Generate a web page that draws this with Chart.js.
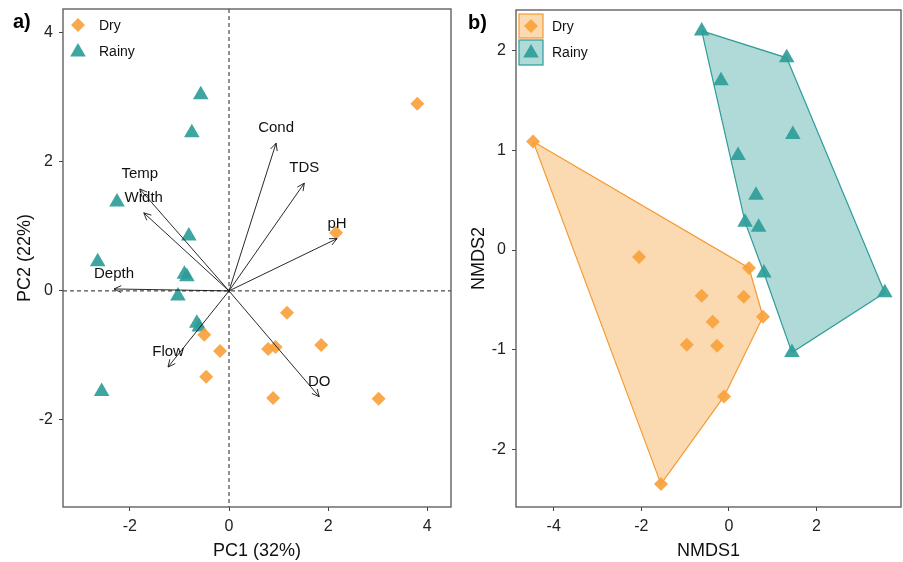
<!DOCTYPE html>
<html lang="en">
<head>
  <meta charset="UTF-8">
  <title>PCA and NMDS ordination, dry vs rainy season</title>
  <script src="https://cdn.jsdelivr.net/npm/chart.js"></script>
  <style>
    body { margin: 0; background: #fff; overflow: hidden; }
    #wrap { position: relative; width: 903px; height: 562px; overflow: hidden; }
    canvas { position: absolute; top: -7px; }
    #pcaChart { left: 0; }
    #nmdsChart { left: 458px; }
  </style>
</head>
<body>
  <div id="wrap">
    <canvas id="pcaChart" width="460" height="569"></canvas>
    <canvas id="nmdsChart" width="452" height="569"></canvas>
  </div>

  <script>
    // ---- panel a) PCA scores ----
    const pc1Dry = [3.80, 2.16, 1.17, -0.50, -0.18, 0.79, 0.94, 1.86, -0.46, 0.89, 3.02];
    const pc2Dry = [2.90, 0.90, -0.34, -0.68, -0.93, -0.90, -0.87, -0.84, -1.33, -1.66, -1.67];
    const pc1Rainy = [-0.57, -0.75, -2.26, -0.81, -2.65, -0.85, -0.90, -1.03, -0.65, -0.60, -2.57];
    const pc2Rainy = [3.04, 2.45, 1.38, 0.85, 0.45, 0.22, 0.26, -0.08, -0.50, -0.56, -1.56];

    // loadings (arrow tips)
    const loadingNames = ['Cond', 'TDS', 'pH', 'Temp', 'Width', 'Depth', 'Flow', 'DO'];
    const loadingPC1 = [0.95, 1.52, 2.18, -1.80, -1.72, -2.32, -1.23, 1.82];
    const loadingPC2 = [2.29, 1.67, 0.81, 1.58, 1.21, 0.03, -1.18, -1.64];

    const pcaTicksX = [-2, 0, 2, 4];
    const pcaTicksY = [-2, 0, 2, 4];

    // ---- panel b) NMDS scores ----
    const nmds1Dry = [-4.47, -2.05, 0.46, -0.62, 0.34, 0.78, -0.37, -0.96, -0.27, -0.11, -1.55];
    const nmds2Dry = [1.09, -0.07, -0.18, -0.46, -0.47, -0.67, -0.72, -0.95, -0.96, -1.47, -2.35];
    const nmds1Rainy = [-0.62, 1.32, -0.18, 1.46, 0.21, 0.62, 0.37, 0.68, 0.80, 3.56, 1.44];
    const nmds2Rainy = [2.20, 1.93, 1.70, 1.16, 0.95, 0.55, 0.28, 0.23, -0.23, -0.43, -1.03];
    const hullDry = [0, 2, 5, 9, 10];
    const hullRainy = [0, 1, 9, 10, 8, 6];

    const nmdsTicksX = [-4, -2, 0, 2];
    const nmdsTicksY = [-2, -1, 0, 1, 2];

    const seasons = ['Dry', 'Rainy'];

    const ORANGE = 'rgba(248, 162, 60, 0.92)';
    const TEAL = 'rgba(46, 157, 153, 0.92)';
    const FONT = "'Liberation Sans', Arial, sans-serif";

    function pts(xs, ys) {
      return xs.map((x, i) => ({ x: x, y: ys[i] }));
    }

    function drawDiamond(ctx, x, y, r) {
      ctx.beginPath();
      ctx.moveTo(x, y - r); ctx.lineTo(x + r, y); ctx.lineTo(x, y + r); ctx.lineTo(x - r, y);
      ctx.closePath(); ctx.fill();
    }
    function drawTriangle(ctx, x, y, r) {
      ctx.beginPath();
      ctx.moveTo(x, y - r);
      ctx.lineTo(x + r * Math.sin(2 * Math.PI / 3), y + r / 2);
      ctx.lineTo(x - r * Math.sin(2 * Math.PI / 3), y + r / 2);
      ctx.closePath(); ctx.fill();
    }

    function axis(min, max, ticks, title, size, titlePad) {
      return {
        type: 'linear',
        min: min,
        max: max,
        afterBuildTicks: s => { s.ticks = ticks.map(v => ({ value: v })); },
        afterFit: s => {
          if (s.isHorizontal()) s.height = size; else s.width = size;
        },
        grid: { drawOnChartArea: false, drawTicks: true, tickLength: 4, tickColor: '#444', color: '#444' },
        border: { display: false },
        ticks: { font: { family: FONT, size: 16 }, color: '#222', padding: 6 },
        title: {
          display: true, text: title, color: '#111',
          font: { family: FONT, size: 18 },
          padding: { top: titlePad, bottom: 0 }
        }
      };
    }

    // frame, panel tag and legend shared by both panels
    function decorPlugin(tag, boxedLegend) {
      return {
        id: 'decor',
        afterDraw(chart) {
          const ctx = chart.ctx, a = chart.chartArea;
          ctx.save();
          ctx.strokeStyle = '#555';
          ctx.lineWidth = 1.3;
          ctx.strokeRect(a.left, a.top, a.right - a.left, a.bottom - a.top);

          ctx.fillStyle = '#000';
          ctx.font = 'bold 20px ' + FONT;
          ctx.textBaseline = 'middle';
          ctx.textAlign = 'left';
          ctx.fillText(tag, a.left - (boxedLegend ? 48 : 50), a.top + 13);

          const lx = a.left + 15, rows = [a.top + 16, a.top + 42];
          if (boxedLegend) {
            ctx.lineWidth = 1.2;
            ctx.fillStyle = 'rgba(248, 162, 60, 0.4)';
            ctx.fillRect(lx - 12, rows[0] - 12, 24, 24);
            ctx.strokeStyle = '#F39A32';
            ctx.strokeRect(lx - 12, rows[0] - 12, 24, 24);
            ctx.fillStyle = 'rgba(46, 157, 153, 0.38)';
            ctx.fillRect(lx - 12, rows[1] - 12, 24, 25);
            ctx.strokeStyle = '#2E9C98';
            ctx.strokeRect(lx - 12, rows[1] - 12, 24, 25);
          }
          ctx.fillStyle = ORANGE;
          drawDiamond(ctx, lx, rows[0], 7);
          ctx.fillStyle = TEAL;
          drawTriangle(ctx, lx, rows[1] + 1, 9);

          ctx.fillStyle = '#111';
          ctx.font = '14px ' + FONT;
          ctx.fillText(seasons[0], lx + 21, rows[0] + 1);
          ctx.fillText(seasons[1], lx + 21, rows[1] + 1);
          ctx.restore();
        }
      };
    }

    // dashed zero lines and loading arrows for the PCA biplot
    const biplotPlugin = {
      id: 'biplot',
      beforeDatasetsDraw(chart) {
        const ctx = chart.ctx, a = chart.chartArea;
        const x0 = chart.scales.x.getPixelForValue(0);
        const y0 = chart.scales.y.getPixelForValue(0);
        ctx.save();
        ctx.strokeStyle = '#222';
        ctx.lineWidth = 1;
        ctx.setLineDash([4, 3]);
        ctx.beginPath();
        ctx.moveTo(x0, a.top); ctx.lineTo(x0, a.bottom);
        ctx.moveTo(a.left, y0); ctx.lineTo(a.right, y0);
        ctx.stroke();
        ctx.restore();
      },
      afterDatasetsDraw(chart) {
        const ctx = chart.ctx;
        const sx = chart.scales.x, sy = chart.scales.y;
        const x0 = sx.getPixelForValue(0), y0 = sy.getPixelForValue(0);
        ctx.save();
        ctx.strokeStyle = '#111';
        ctx.lineWidth = 0.9;
        ctx.font = '15px ' + FONT;
        ctx.fillStyle = '#111';
        ctx.textAlign = 'center';
        ctx.textBaseline = 'middle';
        loadingNames.forEach((name, i) => {
          const x1 = sx.getPixelForValue(loadingPC1[i]);
          const y1 = sy.getPixelForValue(loadingPC2[i]);
          const ang = Math.atan2(y1 - y0, x1 - x0), h = 8;
          ctx.beginPath();
          ctx.moveTo(x0, y0); ctx.lineTo(x1, y1);
          ctx.moveTo(x1 - h * Math.cos(ang - 0.45), y1 - h * Math.sin(ang - 0.45));
          ctx.lineTo(x1, y1);
          ctx.lineTo(x1 - h * Math.cos(ang + 0.45), y1 - h * Math.sin(ang + 0.45));
          ctx.stroke();
          ctx.fillText(name, x1, y1 - 15);
        });
        ctx.restore();
      }
    };

    // convex hulls for the NMDS panel
    const hullPlugin = {
      id: 'hulls',
      beforeDatasetsDraw(chart) {
        const ctx = chart.ctx;
        const sx = chart.scales.x, sy = chart.scales.y;
        const groups = [
          { xs: nmds1Dry, ys: nmds2Dry, idx: hullDry, fill: 'rgba(248, 162, 60, 0.4)', line: '#F39A32' },
          { xs: nmds1Rainy, ys: nmds2Rainy, idx: hullRainy, fill: 'rgba(46, 157, 153, 0.38)', line: '#2E9C98' }
        ];
        ctx.save();
        ctx.lineWidth = 1.2;
        groups.forEach(g => {
          ctx.beginPath();
          g.idx.forEach((k, j) => {
            const px = sx.getPixelForValue(g.xs[k]), py = sy.getPixelForValue(g.ys[k]);
            if (j === 0) ctx.moveTo(px, py); else ctx.lineTo(px, py);
          });
          ctx.closePath();
          ctx.fillStyle = g.fill;
          ctx.fill();
          ctx.strokeStyle = g.line;
          ctx.stroke();
        });
        ctx.restore();
      }
    };

    function scatterSets(xd, yd, xr, yr) {
      return [
        { label: seasons[0], data: pts(xd, yd), pointStyle: 'rectRot', pointRadius: 7,
          backgroundColor: ORANGE, borderColor: ORANGE, borderWidth: 0 },
        { label: seasons[1], data: pts(xr, yr), pointStyle: 'triangle', pointRadius: 9,
          backgroundColor: TEAL, borderColor: TEAL, borderWidth: 0 }
      ];
    }

    new Chart(document.getElementById('pcaChart'), {
      type: 'scatter',
      data: { datasets: scatterSets(pc1Dry, pc2Dry, pc1Rainy, pc2Rainy) },
      options: {
        responsive: false,
        animation: false,
        layout: { padding: { top: 16, right: 0, left: 0, bottom: 0 } },
        plugins: { legend: { display: false }, tooltip: { enabled: false } },
        scales: {
          x: axis(-3.35, 4.48, pcaTicksX, 'PC1 (32%)', 55, 2),
          y: axis(-3.35, 4.37, pcaTicksY, 'PC2 (22%)', 63, 14)
        }
      },
      plugins: [biplotPlugin, decorPlugin('a)', false)]
    });

    new Chart(document.getElementById('nmdsChart'), {
      type: 'scatter',
      data: { datasets: scatterSets(nmds1Dry, nmds2Dry, nmds1Rainy, nmds2Rainy) },
      options: {
        responsive: false,
        animation: false,
        layout: { padding: { top: 17, right: 0, left: 0, bottom: 0 } },
        plugins: { legend: { display: false }, tooltip: { enabled: false } },
        scales: {
          x: axis(-4.86, 3.93, nmdsTicksX, 'NMDS1', 55, 2),
          y: axis(-2.58, 2.41, nmdsTicksY, 'NMDS2', 58, 10)
        }
      },
      plugins: [hullPlugin, decorPlugin('b)', true)]
    });
  </script>
</body>
</html>
